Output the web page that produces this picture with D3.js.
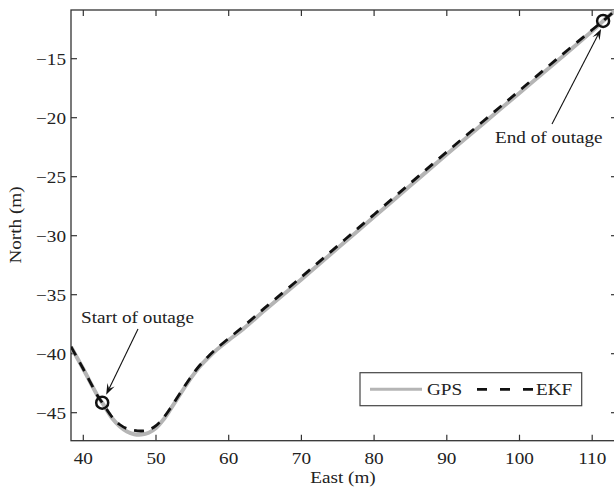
<!DOCTYPE html>
<html>
<head>
<meta charset="utf-8">
<script src="https://cdn.jsdelivr.net/npm/d3@7"></script>
<style>
body{margin:0;background:#fff;}
text{font-family:"Liberation Serif","Times New Roman",serif;fill:#222;}
</style>
</head>
<body>
<div id="ChartPart"></div>
<script>
//Data of the trajectory---------------------------------------------------------------
var East = [38.3, 40, 42, 42.6, 44, 45, 46, 47, 48, 49, 50, 51, 52, 53, 54, 55, 56, 57, 58, 60, 62, 65, 70, 75, 80, 85, 90, 95, 100, 105, 110, 111.5, 113.3];
var NorthGps = [-39.4, -41.3, -43.6, -44.15, -45.5, -46.15, -46.6, -46.82, -46.85, -46.7, -46.3, -45.6, -44.7, -43.75, -42.8, -41.9, -41.1, -40.45, -39.85, -38.85, -37.9, -36.3, -33.7, -31.05, -28.4, -25.75, -23.1, -20.5, -17.9, -15.3, -12.65, -11.8, -10.85];
var NorthEkf = [-39.4, -41.3, -43.6, -44.15, -45.4, -46.0, -46.35, -46.5, -46.55, -46.45, -46.1, -45.45, -44.6, -43.65, -42.7, -41.8, -41.0, -40.35, -39.75, -38.7, -37.7, -36.1, -33.5, -30.85, -28.2, -25.55, -22.9, -20.3, -17.7, -15.1, -12.55, -11.8, -10.85];
var OutageEast = [42.6, 111.5];
var OutageNorth = [-44.15, -11.8];
var OutageLabel = ["Start of outage", "End of outage"];
var XTicks = [40, 50, 60, 70, 80, 90, 100, 110];
var YTicks = [-45, -40, -35, -30, -25, -20, -15];
var LegendNames = ["GPS", "EKF"];

var Width = 614, Height = 491;
var PlotLeft = 71, PlotRight = 617, PlotTop = 10, PlotBottom = 440.7;
var TickLength = 6;
var TextStretch = 1.2;

var XScale = d3.scaleLinear().domain([40, 110]).range([83.3, 592.2]);
var YScale = d3.scaleLinear().domain([-45, -15]).range([412.7, 58.7]);

var Svg = d3.select("#ChartPart")
	.append("svg")
	.attr("width", Width)
	.attr("height", Height);

//text with the wide serif look of the original
function StretchText(Parent, X, Y, Label, Anchor, Rotate)
{
	return Parent.append("text")
	.attr("transform", "translate(" + X + "," + Y + ")" + (Rotate ? " rotate(" + Rotate + ")" : "") + " scale(" + TextStretch + ",1)")
	.attr("text-anchor", Anchor)
	.style("font-size", "16px")
	.text(Label);
}

//Axes frame and ticks------------------------------------------------------------------
function DrawAxes()
{
	var Frame = Svg.append("g").attr("id", "Frame");
	Frame.append("rect")
	.attr("x", PlotLeft)
	.attr("y", PlotTop)
	.attr("width", PlotRight - PlotLeft)
	.attr("height", PlotBottom - PlotTop)
	.attr("fill", "none")
	.attr("stroke", "#333")
	.attr("stroke-width", 1.3);

	XTicks.forEach(function(d){
		var X = XScale(d);
		Frame.append("line").attr("x1", X).attr("x2", X).attr("y1", PlotBottom).attr("y2", PlotBottom - TickLength)
		.attr("stroke", "#333").attr("stroke-width", 1.2);
		Frame.append("line").attr("x1", X).attr("x2", X).attr("y1", PlotTop).attr("y2", PlotTop + TickLength)
		.attr("stroke", "#333").attr("stroke-width", 1.2);
		StretchText(Frame, X, 464, d, "middle");
	});

	YTicks.forEach(function(d){
		var Y = YScale(d);
		Frame.append("line").attr("x1", PlotLeft).attr("x2", PlotLeft + TickLength).attr("y1", Y).attr("y2", Y)
		.attr("stroke", "#333").attr("stroke-width", 1.2);
		Frame.append("line").attr("x1", PlotRight).attr("x2", PlotRight - TickLength).attr("y1", Y).attr("y2", Y)
		.attr("stroke", "#333").attr("stroke-width", 1.2);
		StretchText(Frame, 66, Y + 6, "\u2212" + Math.abs(d), "end");
	});

	StretchText(Frame, 343, 483, "East (m)", "middle");
	StretchText(Frame, 21, 225, "North (m)", "middle", -90);
}

//The two trajectories------------------------------------------------------------------
function DrawLines()
{
	Svg.append("clipPath").attr("id", "PlotClip")
	.append("rect")
	.attr("x", PlotLeft).attr("y", PlotTop)
	.attr("width", PlotRight - PlotLeft).attr("height", PlotBottom - PlotTop);

	var Line = d3.line()
	.x(function(d){ return XScale(d[0]); })
	.y(function(d){ return YScale(d[1]); })
	.curve(d3.curveCatmullRom);

	var Lines = Svg.append("g").attr("clip-path", "url(#PlotClip)");

	Lines.append("path")
	.datum(d3.zip(East, NorthGps))
	.attr("d", Line)
	.attr("fill", "none")
	.attr("stroke", "#b5b5b5")
	.attr("stroke-width", 4);

	Lines.append("path")
	.datum(d3.zip(East, NorthEkf))
	.attr("d", Line)
	.attr("fill", "none")
	.attr("stroke", "#111")
	.attr("stroke-width", 2.8)
	.attr("stroke-dasharray", "10,8");

	Lines.selectAll("circle")
	.data(d3.zip(OutageEast, OutageNorth))
	.enter()
	.append("circle")
	.attr("cx", function(d){ return XScale(d[0]); })
	.attr("cy", function(d){ return YScale(d[1]); })
	.attr("r", 6)
	.attr("fill", "none")
	.attr("stroke", "#111")
	.attr("stroke-width", 2.5);
}

//Annotations with arrows---------------------------------------------------------------
function DrawArrow(X1, Y1, X2, Y2)
{
	var Angle = Math.atan2(Y2 - Y1, X2 - X1);
	var HeadLength = 11, HeadWidth = 4;
	var Cos = Math.cos(Angle), Sin = Math.sin(Angle);
	var BackX = X2 - HeadLength * Cos, BackY = Y2 - HeadLength * Sin;
	var NotchX = X2 - HeadLength * 0.6 * Cos, NotchY = Y2 - HeadLength * 0.6 * Sin;
	Svg.append("line")
	.attr("x1", X1).attr("y1", Y1).attr("x2", NotchX).attr("y2", NotchY)
	.attr("stroke", "#111").attr("stroke-width", 1.1);
	Svg.append("path")
	.attr("d", "M" + X2 + "," + Y2 +
		"L" + (BackX - HeadWidth * Sin) + "," + (BackY + HeadWidth * Cos) +
		"L" + NotchX + "," + NotchY +
		"L" + (BackX + HeadWidth * Sin) + "," + (BackY - HeadWidth * Cos) + "Z")
	.attr("fill", "#111");
}

function DrawAnnotations()
{
	StretchText(Svg, 81, 323, OutageLabel[0], "start");
	DrawArrow(138, 329, XScale(OutageEast[0]) + 4, YScale(OutageNorth[0]) - 8);
	StretchText(Svg, 495, 143, OutageLabel[1], "start");
	DrawArrow(552, 124, XScale(OutageEast[1]) - 2, YScale(OutageNorth[1]) + 8);
}

//Legend--------------------------------------------------------------------------------
function DrawLegend()
{
	var Legend = Svg.append("g").attr("id", "Legend");
	Legend.append("rect")
	.attr("x", 360).attr("y", 372.7)
	.attr("width", 221.7).attr("height", 33)
	.attr("fill", "#fff")
	.attr("stroke", "#444")
	.attr("stroke-width", 1.2);

	Legend.append("line")
	.attr("x1", 370).attr("x2", 422).attr("y1", 389.3).attr("y2", 389.3)
	.attr("stroke", "#b5b5b5").attr("stroke-width", 3);
	StretchText(Legend, 427, 395, LegendNames[0], "start");

	Legend.append("line")
	.attr("x1", 477).attr("x2", 533).attr("y1", 389.3).attr("y2", 389.3)
	.attr("stroke", "#111").attr("stroke-width", 2.8)
	.attr("stroke-dasharray", "10,13");
	StretchText(Legend, 536, 395, LegendNames[1], "start");
}

DrawAxes();
DrawLines();
DrawAnnotations();
DrawLegend();
</script>
</body>
</html>
